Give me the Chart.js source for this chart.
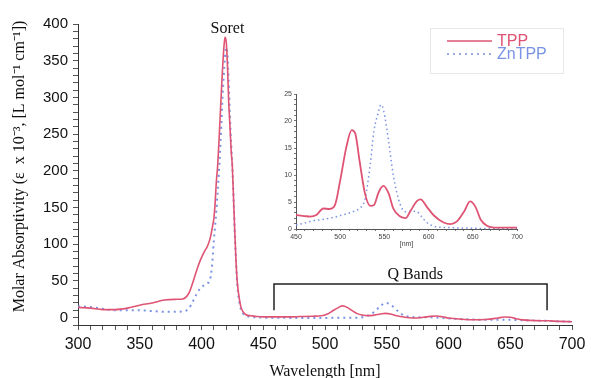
<!DOCTYPE html>
<html>
<head>
<meta charset="utf-8">
<script src="https://cdn.jsdelivr.net/npm/chart.js@4.4.0/dist/chart.umd.min.js"></script>
<style>
  html, body { margin: 0; padding: 0; background: #fff; }
  #wrap { position: relative; width: 591px; height: 378px; overflow: hidden; }
  #mainChart { position: absolute; left: 0; top: 0; }
  #insetBox { position: absolute; left: 270px; top: 84px; width: 255px; height: 170px; }
</style>
</head>
<body>
<div id="wrap">
  <canvas id="mainChart" width="591" height="378"></canvas>
  <div id="insetBox"><canvas id="insetChart" width="255" height="170"></canvas></div>
</div>
<script>
// main spectrum, 300-700 nm, values in ε x 10^-3
const wavelengths = [300, 310, 320, 330, 340, 350, 360, 370, 380, 385, 388, 390, 393, 396, 399, 402, 405, 407, 409, 410,
  411, 412, 413, 414, 415, 416, 417, 418, 419, 420, 421, 422, 423, 424, 425, 426, 427, 428, 429, 430,
  431, 432, 434, 436, 440, 445, 450, 460, 470, 480, 490, 497, 502, 506, 510, 514, 518, 522, 526, 530,
  535, 540, 545, 549, 553, 557, 561, 565, 570, 575, 580, 585, 590, 595, 600, 610, 620, 630, 640, 645,
  650, 655, 660, 670, 680, 690, 700];
const tppAbs = [14, 13, 11, 11, 13, 17, 20, 24, 25, 25.5, 29, 34, 48, 64, 78, 89, 98, 108, 125, 135,
  155, 185, 205, 235, 270, 305, 338, 365, 382, 376, 345, 295, 262, 228, 205, 160, 115, 75, 48, 33,
  22, 14, 7, 4, 2.5, 1.5, 1, 1, 1, 1.5, 2, 2.5, 5, 9, 13, 16, 14, 9.5, 5.5, 3.5,
  2.8, 3.5, 5, 5.8, 5, 3, 1.5, 0.5, -0.5, -0.5, 0.5, 1.8, 2.2, 1.2, -0.5, -2, -2.8, -2.5, -0.5, 0.8,
  0.5, -1.5, -3, -4, -4.3, -5, -5.5];
const znAbs = [15.5, 14.5, 12, 10, 10, 10, 9, 8, 8, 8.5, 10, 13, 22, 32, 40, 44, 47, 52, 80, 105,
  125, 145, 170, 195, 225, 260, 300, 330, 355, 368, 358, 322, 275, 238, 205, 160, 112, 75, 45, 28,
  18, 11, 5, 2.5, 1, 0.5, 0, 0, -0.3, -0.3, -0.3, -0.3, -0.3, -0.2, 0, 0, 0, 0, 0, 0.5,
  3, 8, 16, 20, 18, 12, 6, 2.5, 1, 0.5, 0.5, 0.5, 0.3, -0.5, -1, -2, -2.5, -3, -3, -3,
  -3, -3.2, -3.5, -4, -4.3, -5, -5.5];

// inset: Q band region
const insetWavelengths = [450, 460, 466, 473, 481, 488, 494, 500, 507, 513, 517, 522, 528, 534, 538, 543, 546, 549, 555, 560,
  568, 574, 579, 587, 591, 598, 606, 617, 625, 632, 640, 647, 653, 659, 666, 677, 690, 700];
const tppInset = [2.6, 2.4, 2.3, 2.6, 3.8, 3.7, 4.4, 9, 15.2, 18.3, 17.7, 12.5, 6.6, 4.3, 4.4, 6.6, 7.6, 8, 6.5, 3.8,
  2.3, 2, 3.2, 5.2, 5.5, 4.1, 2.5, 1.2, 0.9, 1.4, 3.2, 5.1, 4.1, 1.7, 0.6, 0.25, 0.25, 0.25];
const znInset = [0.75, 1.1, 1.4, 1.6, 1.8, 2.0, 2.2, 2.5, 2.8, 3.1, 3.4, 3.8, 5.5, 12, 18, 21.5, 23, 22, 16, 10,
  4.5, 3.2, 3.3, 3.2, 2.5, 1.2, 0.5, 0.3, 0.25, 0.2, 0.2, 0.15, 0.15, 0.1, 0.1, 0.1, 0.1, 0.1];

const seriesNames = ['TPP', 'ZnTPP'];
const sans = '"Liberation Sans", Arial, sans-serif';
const serif = '"Liberation Serif", "Times New Roman", serif';
const tppColor = '#df5474';
const znColor = '#7a93e4';

const pts = (xs, ys) => xs.map((x, i) => ({ x: x, y: ys[i] }));

// text labels and the Q band bracket, placed in data units
const notes = {
  id: 'notes',
  afterDatasetsDraw(chart) {
    const { ctx, scales: { x, y } } = chart;
    ctx.save();
    ctx.fillStyle = '#111';
    ctx.font = '16px ' + serif;
    ctx.textAlign = 'center';
    ctx.textBaseline = 'middle';
    ctx.fillText('Soret', x.getPixelForValue(421), y.getPixelForValue(394));
    ctx.fillText('Q Bands', x.getPixelForValue(573), y.getPixelForValue(59));

    ctx.strokeStyle = '#222';
    ctx.lineWidth = 1.5;
    ctx.beginPath();
    ctx.moveTo(x.getPixelForValue(458.7), y.getPixelForValue(10));
    ctx.lineTo(x.getPixelForValue(458.7), y.getPixelForValue(45.7));
    ctx.lineTo(x.getPixelForValue(679.8), y.getPixelForValue(45.7));
    ctx.lineTo(x.getPixelForValue(679.8), y.getPixelForValue(10));
    ctx.stroke();

    // legend box
    ctx.strokeStyle = '#e8e8e8';
    ctx.lineWidth = 1;
    ctx.strokeRect(430.5, 28.5, 133, 45);
    chart.data.datasets.forEach((ds, i) => {
      const ly = 41 + i * 13;
      ctx.strokeStyle = ds.borderColor;
      ctx.lineWidth = 1.5;
      ctx.setLineDash(ds.borderDash || []);
      ctx.beginPath();
      ctx.moveTo(447, ly);
      ctx.lineTo(492, ly);
      ctx.stroke();
      ctx.setLineDash([]);
      ctx.fillStyle = ds.borderColor;
      ctx.font = '16px ' + sans;
      ctx.textAlign = 'left';
      ctx.fillText(ds.label, 497, ly + 1);
    });
    ctx.restore();
  }
};

new Chart(document.getElementById('mainChart'), {
  type: 'line',
  data: {
    datasets: [{
      label: seriesNames[0],
      data: pts(wavelengths, tppAbs),
      borderColor: tppColor,
      borderWidth: 1.6,
      pointRadius: 0,
      cubicInterpolationMode: 'monotone'
    }, {
      label: seriesNames[1],
      data: pts(wavelengths, znAbs),
      borderColor: znColor,
      borderWidth: 2,
      borderDash: [2, 4],
      pointRadius: 0,
      cubicInterpolationMode: 'monotone'
    }]
  },
  options: {
    responsive: false,
    animation: false,
    layout: { padding: { top: 24, right: 19, bottom: 0, left: 0 } },
    plugins: { legend: { display: false }, tooltip: { enabled: false } },
    scales: {
      x: {
        type: 'linear', min: 300, max: 700,
        afterFit(s) { s.height = 53; },
        ticks: {
          stepSize: 10, autoSkip: false, maxRotation: 0, padding: 5,
          callback: v => (v % 50 === 0 ? v : ''),
          font: { family: sans, size: 16 }, color: '#111'
        },
        grid: { drawOnChartArea: false, tickLength: 5, color: '#555' },
        border: { color: '#333', dash: [3, 2] },
        title: {
          display: true, text: 'Wavelength [nm]', color: '#111',
          font: { family: serif, size: 16 }, padding: { top: 0, bottom: -3 }
        }
      },
      y: {
        min: -10, max: 400,
        afterFit(s) { s.width = 78; },
        ticks: {
          stepSize: 10, autoSkip: false, padding: 5,
          callback: v => (v % 50 === 0 ? v : ''),
          font: { family: sans, size: 15 }, color: '#111'
        },
        grid: { drawOnChartArea: false, tickLength: 5, color: '#555' },
        border: { color: '#333', dash: [3, 2] },
        title: {
          display: true,
          // leading en spaces nudge the rotated title up to where it sits in the source
          text: '\u2002\u2002Molar Absorptivity (\u03b5  x 10\u207b\u00b3, [L mol\u207b\u00b9 cm\u207b\u00b9])',
          color: '#111', font: { family: serif, size: 16 }, padding: { top: 10, bottom: 0 }
        }
      }
    }
  },
  plugins: [notes]
});

new Chart(document.getElementById('insetChart'), {
  type: 'line',
  data: {
    datasets: [{
      label: seriesNames[0],
      data: pts(insetWavelengths, tppInset),
      borderColor: tppColor,
      borderWidth: 1.8,
      pointRadius: 0,
      cubicInterpolationMode: 'monotone'
    }, {
      label: seriesNames[1],
      data: pts(insetWavelengths, znInset),
      borderColor: znColor,
      borderWidth: 1.5,
      borderDash: [1.5, 3],
      pointRadius: 0,
      cubicInterpolationMode: 'monotone'
    }]
  },
  options: {
    responsive: false,
    animation: false,
    layout: { padding: { top: 10, right: 8, bottom: 0, left: 0 } },
    plugins: { legend: { display: false }, tooltip: { enabled: false } },
    scales: {
      x: {
        type: 'linear', min: 450, max: 700,
        afterFit(s) { s.height = 25; },
        ticks: {
          stepSize: 10, autoSkip: false, maxRotation: 0, padding: 2,
          callback: v => (v % 50 === 0 ? v : ''),
          font: { family: sans, size: 7 }, color: '#444'
        },
        grid: { drawOnChartArea: false, tickLength: 2, color: '#777' },
        border: { color: '#555', dash: [1, 1] },
        title: {
          display: true, text: '[nm]', color: '#444',
          font: { family: sans, size: 7 }, padding: { top: 0, bottom: 6 }
        }
      },
      y: {
        min: 0, max: 25,
        afterFit(s) { s.width = 26; },
        ticks: {
          stepSize: 1, autoSkip: false, padding: 2,
          callback: v => (v % 5 === 0 ? v : ''),
          font: { family: sans, size: 7 }, color: '#444'
        },
        grid: { drawOnChartArea: false, tickLength: 2, color: '#777' },
        border: { color: '#555', dash: [1, 1] }
      }
    }
  }
});
</script>
</body>
</html>
